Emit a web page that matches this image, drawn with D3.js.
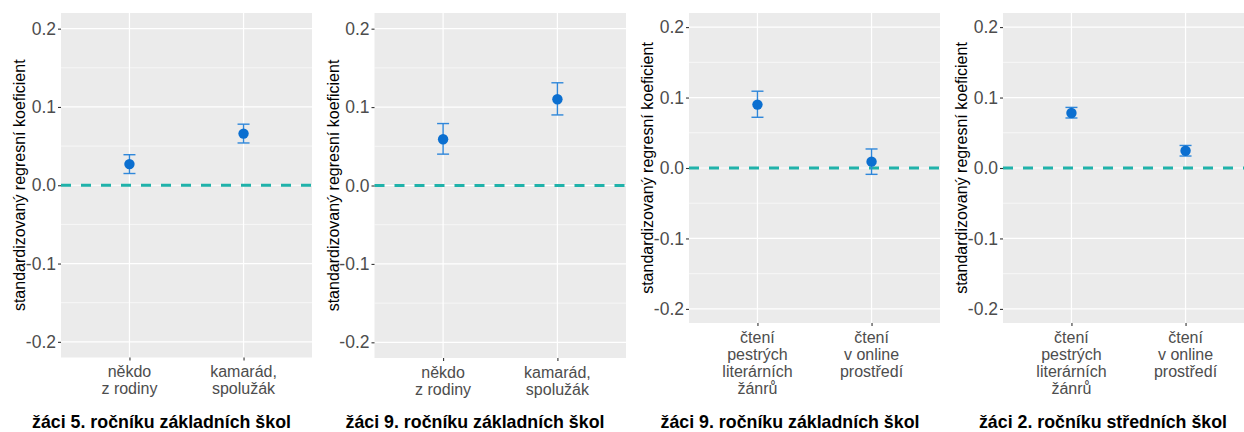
<!DOCTYPE html>
<html>
<head>
<meta charset="utf-8">
<script src="https://cdn.jsdelivr.net/npm/d3@7"></script>
<style>
  html, body { margin: 0; padding: 0; background: #ffffff; overflow: hidden; }
  svg { display: block; }
  text { font-family: "Liberation Sans", Arial, sans-serif; }
</style>
</head>
<body>
<svg id="chart" width="1244" height="432"></svg>
<script>
// ---- data ----
const panelTitles = [
  "žáci 5. ročníku základních škol",
  "žáci 9. ročníku základních škol",
  "žáci 9. ročníku základních škol",
  "žáci 2. ročníku středních škol"
];
const yAxisTitle = "standardizovaný regresní koeficient";

// category labels, one entry per line
const catsSupport = [["někdo", "z rodiny"], ["kamarád,", "spolužák"]];
const catsReading = [["čtení", "pestrých", "literárních", "žánrů"], ["čtení", "v online", "prostředí"]];

const yTicks = [-0.2, -0.1, 0.0, 0.1, 0.2];
const yTickLabels = ["-0.2", "-0.1", "0.0", "0.1", "0.2"];
const yMinorTicks = [-0.15, -0.05, 0.05, 0.15];
const yLimits = [-0.2, 0.2];

// coefficients with confidence interval bounds
const coef5zs = [0.027, 0.066];
const low5zs  = [0.015, 0.054];
const high5zs = [0.039, 0.078];

const coef9zsA = [0.059, 0.110];
const low9zsA  = [0.040, 0.090];
const high9zsA = [0.079, 0.131];

const coef9zsB = [0.090, 0.009];
const low9zsB  = [0.072, -0.009];
const high9zsB = [0.109, 0.027];

const coef2ss = [0.078, 0.0245];
const low2ss  = [0.071, 0.017];
const high2ss = [0.086, 0.032];

// ---- layout of the four sub-plots ----
const panels = [
  { cats: catsSupport, coef: coef5zs,  low: low5zs,  high: high5zs,  left: 61,    right: 312,  top: 13, bottom: 357.5, titleX: 161.5, yTitleX: 25 },
  { cats: catsSupport, coef: coef9zsA, low: low9zsA, high: high9zsA, left: 374.5, right: 626,  top: 13, bottom: 358,   titleX: 475,   yTitleX: 338.5 },
  { cats: catsReading, coef: coef9zsB, low: low9zsB, high: high9zsB, left: 689,   right: 940,  top: 13, bottom: 323,   titleX: 790,   yTitleX: 652.7 },
  { cats: catsReading, coef: coef2ss,  low: low2ss,  high: high2ss,  left: 1003,  right: 1254, top: 13, bottom: 323,   titleX: 1103,  yTitleX: 966.7 }
];

const svg = d3.select("#chart");

const COL_PANEL = "#EBEBEB";
const COL_TEXT = "#4D4D4D";
const COL_POINT = "#0B6FD0";
const COL_BAR = "#2F87DA";
const COL_ZERO = "#20B2AA";

panels.forEach((p, i) => {
  const span = yLimits[1] - yLimits[0];
  const y = d3.scaleLinear()
    .domain([yLimits[0] - 0.05 * span, yLimits[1] + 0.05 * span])
    .range([p.bottom, p.top]);
  const x = d3.scalePoint()
    .domain(d3.range(p.cats.length))
    .range([p.left, p.right])
    .padding(0.6);

  const g = svg.append("g");

  // panel background
  g.append("rect")
    .attr("x", p.left).attr("y", p.top)
    .attr("width", p.right - p.left).attr("height", p.bottom - p.top)
    .attr("fill", COL_PANEL);

  // minor grid
  g.selectAll(".minor").data(yMinorTicks).join("line")
    .attr("x1", p.left).attr("x2", p.right)
    .attr("y1", d => y(d)).attr("y2", d => y(d))
    .attr("stroke", "#ffffff").attr("stroke-width", 0.6);

  // major grid
  g.selectAll(".majorY").data(yTicks).join("line")
    .attr("x1", p.left).attr("x2", p.right)
    .attr("y1", d => y(d)).attr("y2", d => y(d))
    .attr("stroke", "#ffffff").attr("stroke-width", 1.2);
  g.selectAll(".majorX").data(x.domain()).join("line")
    .attr("x1", d => x(d)).attr("x2", d => x(d))
    .attr("y1", p.top).attr("y2", p.bottom)
    .attr("stroke", "#ffffff").attr("stroke-width", 1.2);

  // reference line at zero
  g.append("line")
    .attr("x1", p.left).attr("x2", p.right)
    .attr("y1", y(0)).attr("y2", y(0))
    .attr("stroke", COL_ZERO).attr("stroke-width", 2.8)
    .attr("stroke-dasharray", "10,10");

  // y axis
  const yAxis = d3.axisLeft(y)
    .tickValues(yTicks)
    .tickFormat((d, k) => yTickLabels[k])
    .tickSize(3).tickPadding(2);
  const ya = g.append("g").attr("transform", `translate(${p.left},0)`).call(yAxis);
  ya.select(".domain").remove();
  ya.selectAll(".tick line").attr("stroke", "#333333").attr("stroke-width", 1.1);
  ya.selectAll(".tick text").attr("fill", COL_TEXT)
    .style("font-size", "17.5px").style("font-family", "Liberation Sans, Arial, sans-serif");

  // x axis (multi-line labels)
  const xAxis = d3.axisBottom(x).tickSize(3).tickFormat("");
  const xa = g.append("g").attr("transform", `translate(0,${p.bottom})`).call(xAxis);
  xa.select(".domain").remove();
  xa.selectAll(".tick line").attr("stroke", "#333333").attr("stroke-width", 1.1);
  x.domain().forEach(k => {
    const t = g.append("text")
      .attr("text-anchor", "middle")
      .attr("fill", COL_TEXT)
      .style("font-size", "16px");
    p.cats[k].forEach((line, j) => {
      t.append("tspan")
        .attr("x", x(k))
        .attr("y", p.bottom + 19.5 + j * 17)
        .text(line);
    });
  });

  // y axis title
  g.append("text")
    .attr("transform", `translate(${p.yTitleX},${(p.top + p.bottom) / 2}) rotate(-90)`)
    .attr("text-anchor", "middle")
    .attr("fill", "#000000")
    .style("font-size", "16px")
    .text(yAxisTitle);

  // error bars
  const cap = 6;
  const bars = g.selectAll(".err").data(x.domain()).join("g");
  bars.append("line")
    .attr("x1", d => x(d)).attr("x2", d => x(d))
    .attr("y1", d => y(p.low[d])).attr("y2", d => y(p.high[d]))
    .attr("stroke", COL_BAR).attr("stroke-width", 1.4);
  bars.append("line")
    .attr("x1", d => x(d) - cap).attr("x2", d => x(d) + cap)
    .attr("y1", d => y(p.low[d])).attr("y2", d => y(p.low[d]))
    .attr("stroke", COL_BAR).attr("stroke-width", 1.4);
  bars.append("line")
    .attr("x1", d => x(d) - cap).attr("x2", d => x(d) + cap)
    .attr("y1", d => y(p.high[d])).attr("y2", d => y(p.high[d]))
    .attr("stroke", COL_BAR).attr("stroke-width", 1.4);

  // point estimates
  g.selectAll(".pt").data(x.domain()).join("circle")
    .attr("cx", d => x(d)).attr("cy", d => y(p.coef[d]))
    .attr("r", 5.2)
    .attr("fill", COL_POINT);

  // sub-plot caption
  svg.append("text")
    .attr("x", p.titleX).attr("y", 428)
    .attr("text-anchor", "middle")
    .attr("fill", "#000000")
    .style("font-size", "17.8px")
    .style("font-weight", "bold")
    .text(panelTitles[i]);
});
</script>
</body>
</html>
